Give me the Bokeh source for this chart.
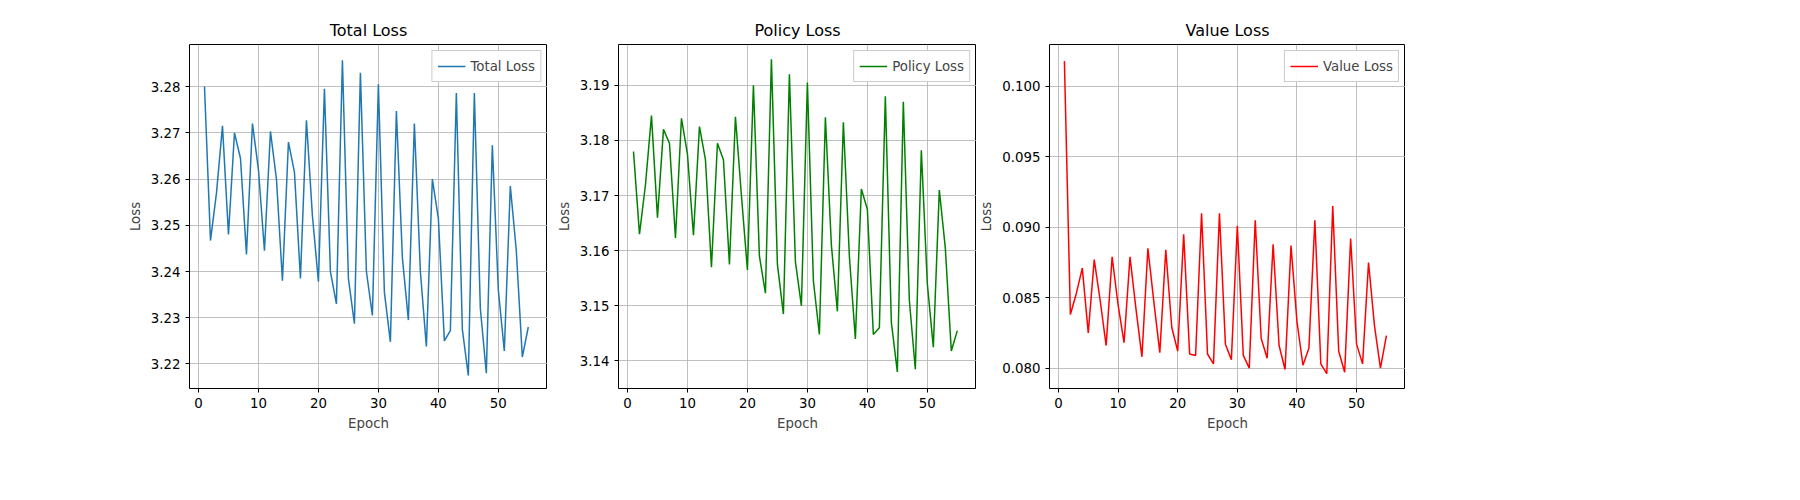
from bokeh.plotting import figure
from bokeh.layouts import row
from bokeh.models import Spacer, Range1d, FixedTicker, Legend, LegendItem, NumeralTickFormatter
from bokeh.embed import file_html
from bokeh.resources import INLINE

epochs = list(range(1, 56))
total_loss = [3.280,3.2467,3.257,3.2715,3.248,3.270,3.2645,3.2437,3.272,3.262,3.2445,3.2703,3.260,3.238,3.268,3.2615,3.2385,3.2727,3.252,3.2378,3.2795,3.240,3.233,3.2857,3.2385,3.2287,3.283,3.240,3.2305,3.2805,3.2355,3.2248,3.2747,3.243,3.2295,3.272,3.240,3.2238,3.260,3.2515,3.225,3.2272,3.2786,3.2275,3.2175,3.2786,3.232,3.218,3.2673,3.236,3.2228,3.2585,3.2445,3.2215,3.228]
policy_loss = [3.178,3.163,3.172,3.1845,3.166,3.182,3.1795,3.1623,3.184,3.1775,3.1628,3.1825,3.1765,3.157,3.1795,3.1765,3.1575,3.1843,3.170,3.1565,3.190,3.159,3.1523,3.1947,3.1575,3.1485,3.192,3.158,3.150,3.1905,3.1545,3.1448,3.1842,3.161,3.149,3.1833,3.159,3.144,3.1712,3.1675,3.1448,3.146,3.188,3.147,3.138,3.187,3.151,3.1385,3.1782,3.154,3.1425,3.171,3.1605,3.1418,3.1455]
value_loss = [0.1018,0.0838,0.0853,0.0871,0.0825,0.0877,0.0848,0.0816,0.0879,0.0845,0.0818,0.0879,0.0842,0.0808,0.0885,0.0847,0.0811,0.0884,0.0829,0.0812,0.0895,0.0810,0.0809,0.0910,0.0810,0.0803,0.0910,0.0817,0.0806,0.0901,0.0809,0.0800,0.0905,0.0821,0.0807,0.0888,0.0816,0.0799,0.0887,0.0833,0.0802,0.0814,0.0905,0.0803,0.0796,0.0915,0.0812,0.0797,0.0892,0.0817,0.0803,0.0875,0.0830,0.0800,0.0823]

x_ticks = [0, 10, 20, 30, 40, 50]
total_ticks = [3.22, 3.23, 3.24, 3.25, 3.26, 3.27, 3.28]
policy_ticks = [3.14, 3.15, 3.16, 3.17, 3.18, 3.19]
value_ticks = [0.080, 0.085, 0.090, 0.095, 0.100]

FONT = "DejaVu Sans"

def make(title, y, color, yr, yticks, fmt):
    p = figure(width=429, height=492, output_backend="svg", toolbar_location=None,
               min_border_left=71, min_border_right=0, min_border_top=44, min_border_bottom=104,
               x_range=Range1d(-1.5, 58.2), y_range=Range1d(*yr))
    p.title.text = title
    p.title.align = "center"
    p.title.text_font = FONT
    p.title.text_font_size = "12pt"
    p.title.text_font_style = "normal"
    p.title.text_color = "black"
    r = p.line(epochs, y, line_color=color, line_width=1.5)
    p.xaxis.ticker = FixedTicker(ticks=x_ticks)
    p.yaxis.ticker = FixedTicker(ticks=yticks)
    p.yaxis.formatter = NumeralTickFormatter(format=fmt)
    p.xaxis.axis_label = "Epoch"
    p.yaxis.axis_label = "Loss"
    for ax in (p.xaxis, p.yaxis):
        ax.axis_label_text_font = FONT
        ax.axis_label_text_font_style = "normal"
        ax.axis_label_text_font_size = "10pt"
        ax.major_label_text_font = FONT
        ax.major_label_text_font_size = "10pt"
        ax.major_label_text_color = "black"
        ax.axis_line_color = None
        ax.major_tick_line_color = "black"
        ax.minor_tick_line_color = None
        ax.major_tick_out = 4
        ax.major_tick_in = 0
    p.grid.grid_line_color = "#b0b0b0"
    p.grid.grid_line_width = 0.8
    p.outline_line_color = "black"
    p.outline_line_alpha = 1
    p.outline_line_width = 1
    leg = Legend(items=[LegendItem(label=title, renderers=[r])], location="top_right")
    leg.label_text_font = FONT
    leg.label_text_font_size = "10pt"
    leg.border_line_color = "#cccccc"
    leg.border_line_alpha = 1
    leg.glyph_width = 28
    leg.padding = 5
    leg.margin = 6
    leg.spacing = 0
    p.add_layout(leg)
    return p

p1 = make("Total Loss", total_loss, "#1f77b4", (3.2147, 3.2891), total_ticks, "0.00")
p2 = make("Policy Loss", policy_loss, "green", (3.135, 3.1974), policy_ticks, "0.00")
p3 = make("Value Loss", value_loss, "red", (0.07855, 0.10298), value_ticks, "0.000")

layout = row(Spacer(width=118), p1, p2, p3)
open("out.html", "w").write(file_html(layout, INLINE))
